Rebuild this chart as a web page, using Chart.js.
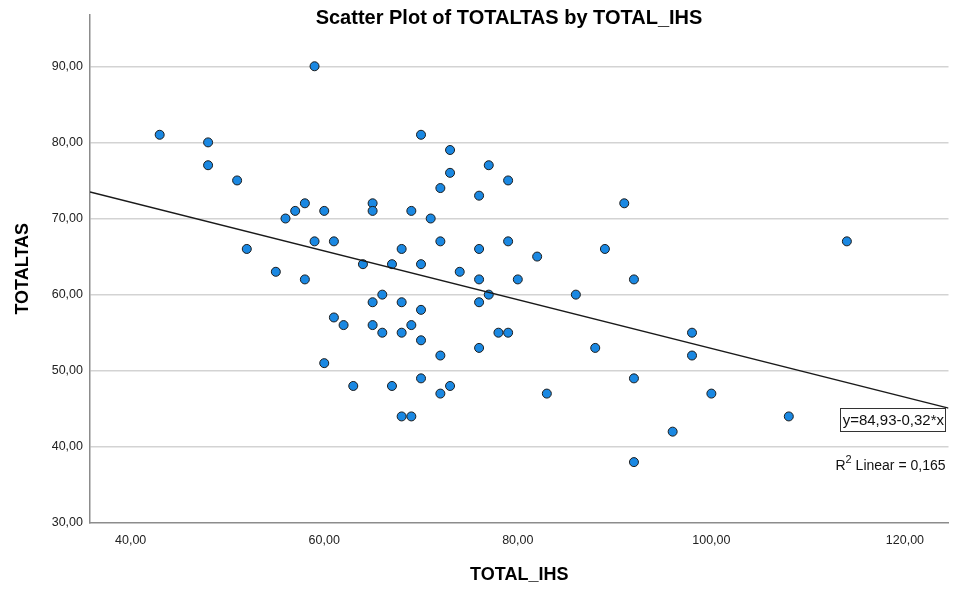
<!DOCTYPE html>
<html>
<head>
<meta charset="utf-8">
<script src="https://cdn.jsdelivr.net/npm/chart.js@4.4.1/dist/chart.umd.min.js"></script>
<style>
  html, body { margin: 0; padding: 0; background: #ffffff; }
  #wrap { width: 954px; height: 590px; position: relative; }
</style>
</head>
<body>
<div id="wrap"><canvas id="c" width="954" height="590"></canvas></div>
<script>
// ---- Data ----
const totalIHS = [43,48,48,51,52,55,56,57,58,58,59,59,60,60,61,61,62,63,64,65,65,65,65,66,66,67,67,68,68,68,68,69,69,69,70,70,70,70,70,71,72,72,72,72,73,73,73,74,76,76,76,76,76,77,77,78,79,79,79,80,82,83,86,88,89,91,92,92,92,96,98,98,100,108,114];
const totalTAS = [81,80,77,75,66,63,70,71,72,62,90,67,71,51,67,57,56,48,64,72,71,59,56,60,55,64,48,66,59,55,44,71,56,44,81,64,58,54,49,70,74,67,52,47,79,76,48,63,73,66,62,59,53,77,60,55,75,67,55,62,65,47,60,53,66,72,62,49,38,42,55,52,47,44,67];
const xTicks = [40, 60, 80, 100, 120];
const yTicks = [30, 40, 50, 60, 70, 80, 90];
const fitIntercept = 84.93;
const fitSlope = -0.32;
const rSquared = 0.165;
const xRange = [35.8, 124.5];
const yRange = [30, 96.8];

const fmt = (v, d) => v.toFixed(d).replace('.', ',');

const points = totalIHS.map((x, i) => ({ x: x, y: totalTAS[i] }));
const fitLine = xRange.map(x => ({ x: x, y: fitIntercept + fitSlope * x }));

const FONT = "'Liberation Sans', Arial, sans-serif";

const overlay = {
  id: 'overlay',
  afterDraw(chart) {
    const ctx = chart.ctx;
    const a = chart.chartArea;
    ctx.save();
    // Title
    ctx.fillStyle = '#000';
    ctx.font = "bold 20px " + FONT;
    ctx.textAlign = 'center';
    ctx.textBaseline = 'middle';
    ctx.fillText('Scatter Plot of TOTALTAS by TOTAL_IHS', 509, 18);

    // Equation box
    const eq = 'y=' + fmt(fitIntercept, 2) + (fitSlope < 0 ? '-' : '+') + fmt(Math.abs(fitSlope), 2) + '*x';
    ctx.font = "15px " + FONT;
    const w = ctx.measureText(eq).width;
    const bx1 = a.right - 2, bx0 = bx1 - w - 5;
    const by0 = 408, by1 = 432;
    ctx.fillStyle = '#fff';
    ctx.fillRect(bx0, by0, bx1 - bx0, by1 - by0);
    ctx.strokeStyle = '#333';
    ctx.lineWidth = 1;
    ctx.strokeRect(Math.round(bx0) + 0.5, by0 + 0.5, Math.round(bx1 - bx0) - 1, by1 - by0 - 1);
    ctx.fillStyle = '#111';
    ctx.textAlign = 'left';
    ctx.fillText(eq, bx0 + 2.5, (by0 + by1) / 2 + 1);

    // R^2 text
    const rest = ' Linear = ' + fmt(rSquared, 3);
    ctx.font = "14px " + FONT;
    const wr = ctx.measureText(rest).width;
    const wR = ctx.measureText('R').width;
    ctx.font = "11px " + FONT;
    const w2 = ctx.measureText('2').width;
    let x0 = a.right - 3 - wr - w2 - wR;
    const ty = 466;
    ctx.fillStyle = '#111';
    ctx.textAlign = 'left';
    ctx.font = "14px " + FONT;
    ctx.fillText('R', x0, ty);
    ctx.font = "11px " + FONT;
    ctx.fillText('2', x0 + wR, ty - 6);
    ctx.font = "14px " + FONT;
    ctx.fillText(rest, x0 + wR + w2, ty);
    ctx.restore();
  }
};

new Chart(document.getElementById('c'), {
  type: 'scatter',
  data: {
    datasets: [
      {
        type: 'line',
        label: 'Fit',
        data: fitLine,
        borderColor: '#1a1a1a',
        borderWidth: 1.5,
        pointRadius: 0,
        fill: false,
        tension: 0
      },
      {
        label: 'TOTALTAS',
        data: points,
        backgroundColor: '#1a88e2',
        borderColor: '#1c1c1c',
        borderWidth: 1,
        pointRadius: 4.5,
        pointHoverRadius: 4.5
      }
    ]
  },
  options: {
    responsive: false,
    animation: false,
    events: [],
    layout: { padding: { top: 12, right: 4, left: 8, bottom: 0 } },
    plugins: {
      legend: { display: false },
      title: { display: false },
      tooltip: { enabled: false }
    },
    scales: {
      x: {
        type: 'linear',
        min: xRange[0],
        max: xRange[1],
        afterBuildTicks: s => { s.ticks = xTicks.map(v => ({ value: v })); },
        afterFit: s => { s.height = 67; },
        ticks: {
          callback: v => fmt(v, 2),
          color: '#222',
          font: { family: FONT, size: 12.5 },
          padding: 10,
          maxRotation: 0
        },
        grid: { display: false, drawTicks: false },
        border: { display: true, color: '#8c8c8c', width: 1.5 },
        title: {
          display: true,
          text: 'TOTAL_IHS',
          color: '#000',
          font: { family: FONT, size: 18, weight: 'bold' },
          padding: { top: 13 }
        }
      },
      y: {
        type: 'linear',
        min: yRange[0],
        max: yRange[1],
        afterBuildTicks: s => { s.ticks = yTicks.map(v => ({ value: v })); },
        afterFit: s => { s.width = 82; },
        ticks: {
          callback: v => fmt(v, 2),
          color: '#222',
          font: { family: FONT, size: 12.5 },
          padding: 7
        },
        grid: {
          drawTicks: false,
          color: ctx => (ctx.tick && ctx.tick.value === yTicks[0]) ? 'rgba(0,0,0,0)' : '#d3d3d3',
          lineWidth: 1.5
        },
        border: { display: true, color: '#8c8c8c', width: 1.5 },
        title: {
          display: true,
          text: 'TOTALTAS',
          color: '#000',
          font: { family: FONT, size: 18, weight: 'bold' },
          padding: { bottom: 6 }
        }
      }
    }
  },
  plugins: [overlay]
});
</script>
</body>
</html>
